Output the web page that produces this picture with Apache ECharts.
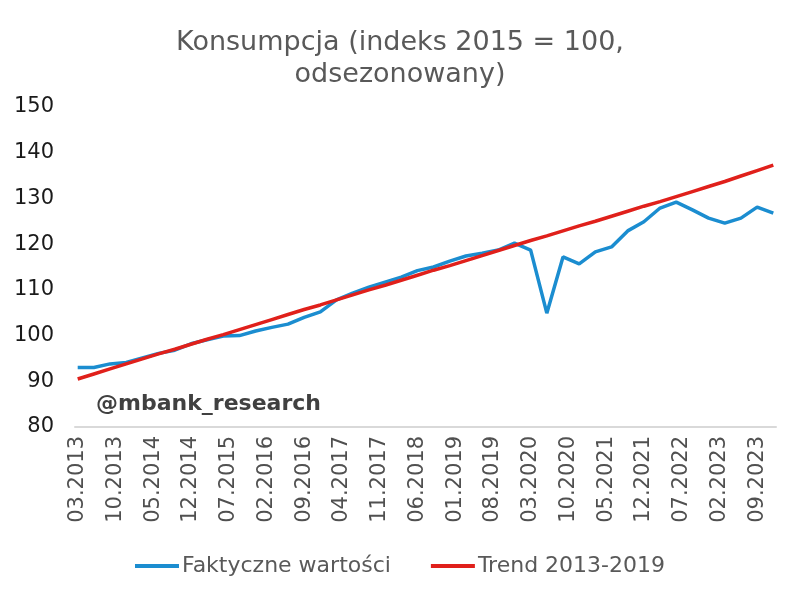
<!DOCTYPE html>
<html>
<head>
<meta charset="utf-8">
<script src="https://cdn.jsdelivr.net/npm/echarts@6/dist/echarts.min.js"></script>
<style>
html,body{margin:0;padding:0;background:#fff;}
#chart{width:800px;height:601px;}
</style>
</head>
<body>
<div id="chart"></div>
<script>
// Quarterly observations (months 03, 06, 09, 12), 2013 Q1 .. 2023 Q4
var quarters = [
  "03.2013","06.2013","09.2013","12.2013",
  "03.2014","06.2014","09.2014","12.2014",
  "03.2015","06.2015","09.2015","12.2015",
  "03.2016","06.2016","09.2016","12.2016",
  "03.2017","06.2017","09.2017","12.2017",
  "03.2018","06.2018","09.2018","12.2018",
  "03.2019","06.2019","09.2019","12.2019",
  "03.2020","06.2020","09.2020","12.2020",
  "03.2021","06.2021","09.2021","12.2021",
  "03.2022","06.2022","09.2022","12.2022",
  "03.2023","06.2023","09.2023","12.2023"
];
var actualValues = [
  93.0, 93.0, 93.8, 94.1,
  95.1, 96.1, 96.8, 98.2,
  99.1, 99.9, 100.0, 101.0,
  101.8, 102.5, 104.0, 105.2,
  107.8, 109.3, 110.6, 111.7,
  112.8, 114.2, 115.0, 116.3,
  117.4, 118.0, 118.7, 120.2,
  118.7, 104.9, 117.2, 115.7,
  118.3, 119.4, 122.9, 124.9,
  127.9, 129.2, 127.5, 125.7,
  124.6, 125.7, 128.1, 126.8
];
var trendValues = [
  90.5, 91.6, 92.7, 93.8,
  94.9, 96.0, 97.0, 98.1,
  99.2, 100.2, 101.3, 102.4,
  103.5, 104.6, 105.7, 106.7,
  107.8, 108.9, 110.0, 111.0,
  112.1, 113.2, 114.3, 115.3,
  116.4, 117.5, 118.6, 119.7,
  120.8, 121.8, 122.9, 124.0,
  125.0, 126.1, 127.2, 128.3,
  129.3, 130.4, 131.5, 132.6,
  133.7, 134.9, 136.1, 137.3
];
var yTicks = [80, 90, 100, 110, 120, 130, 140, 150];
var titleText = "Konsumpcja (indeks 2015 = 100,\nodsezonowany)";
var seriesNames = ["Faktyczne wartości", "Trend 2013-2019"];
var watermark = "@mbank_research";

// Monthly category axis from 03.2013 to 12.2023
var months = [];
for (var y = 2013; y <= 2023; y++) {
  for (var m = (y === 2013 ? 3 : 1); m <= 12; m++) {
    months.push((m < 10 ? "0" + m : "" + m) + "." + y);
  }
}
function toMonthly(vals) {
  var out = months.map(function(){ return null; });
  quarters.forEach(function(q, i){
    var idx = months.indexOf(q);
    if (idx >= 0) out[idx] = vals[i];
  });
  return out;
}

var FONT = "DejaVu Sans";
var chart = echarts.init(document.getElementById('chart'), null, {renderer: 'canvas'});
chart.setOption({
  animation: false,
  backgroundColor: '#ffffff',
  title: {
    text: titleText,
    left: 'center',
    top: 22,
    textStyle: {fontFamily: FONT, fontSize: 27, fontWeight: 'normal', color: '#595959', lineHeight: 32}
  },
  legend: {
    bottom: 19,
    left: 'center',
    itemWidth: 44,
    itemHeight: 4,
    itemGap: 40,
    icon: 'rect',
    textStyle: {fontFamily: FONT, fontSize: 22, color: '#595959', padding: [0,0,0,-2]},
    data: seriesNames
  },
  grid: {left: 75, right: 24, top: 107, bottom: 174, containLabel: false},
  xAxis: {
    type: 'category',
    data: months,
    boundaryGap: true,
    axisLine: {show: true, lineStyle: {color: '#d9d9d9', width: 2}},
    axisTick: {show: false},
    splitLine: {show: false},
    axisLabel: {
      interval: 6,
      rotate: 90,
      margin: 9,
      fontFamily: FONT,
      fontSize: 21,
      color: '#505050'
    }
  },
  yAxis: {
    type: 'value',
    min: 80,
    max: 150,
    interval: 10,
    axisLine: {show: false},
    axisTick: {show: false},
    splitLine: {show: false},
    axisLabel: {
      margin: 21,
      fontFamily: FONT,
      fontSize: 21,
      color: '#1a1a1a'
    }
  },
  graphic: [{
    type: 'text',
    left: 96,
    top: 393,
    style: {text: watermark, font: 'bold 22px "DejaVu Sans"', fill: '#404040'}
  }],
  series: [
    {
      name: seriesNames[0],
      type: 'line',
      data: toMonthly(actualValues),
      connectNulls: true,
      showSymbol: false,
      symbol: 'none',
      lineStyle: {color: '#1B8DD0', width: 3.5},
      itemStyle: {color: '#1B8DD0'}
    },
    {
      name: seriesNames[1],
      type: 'line',
      data: toMonthly(trendValues),
      connectNulls: true,
      showSymbol: false,
      symbol: 'none',
      lineStyle: {color: '#E0201B', width: 3.5},
      itemStyle: {color: '#E0201B'}
    }
  ]
});
</script>
</body>
</html>
